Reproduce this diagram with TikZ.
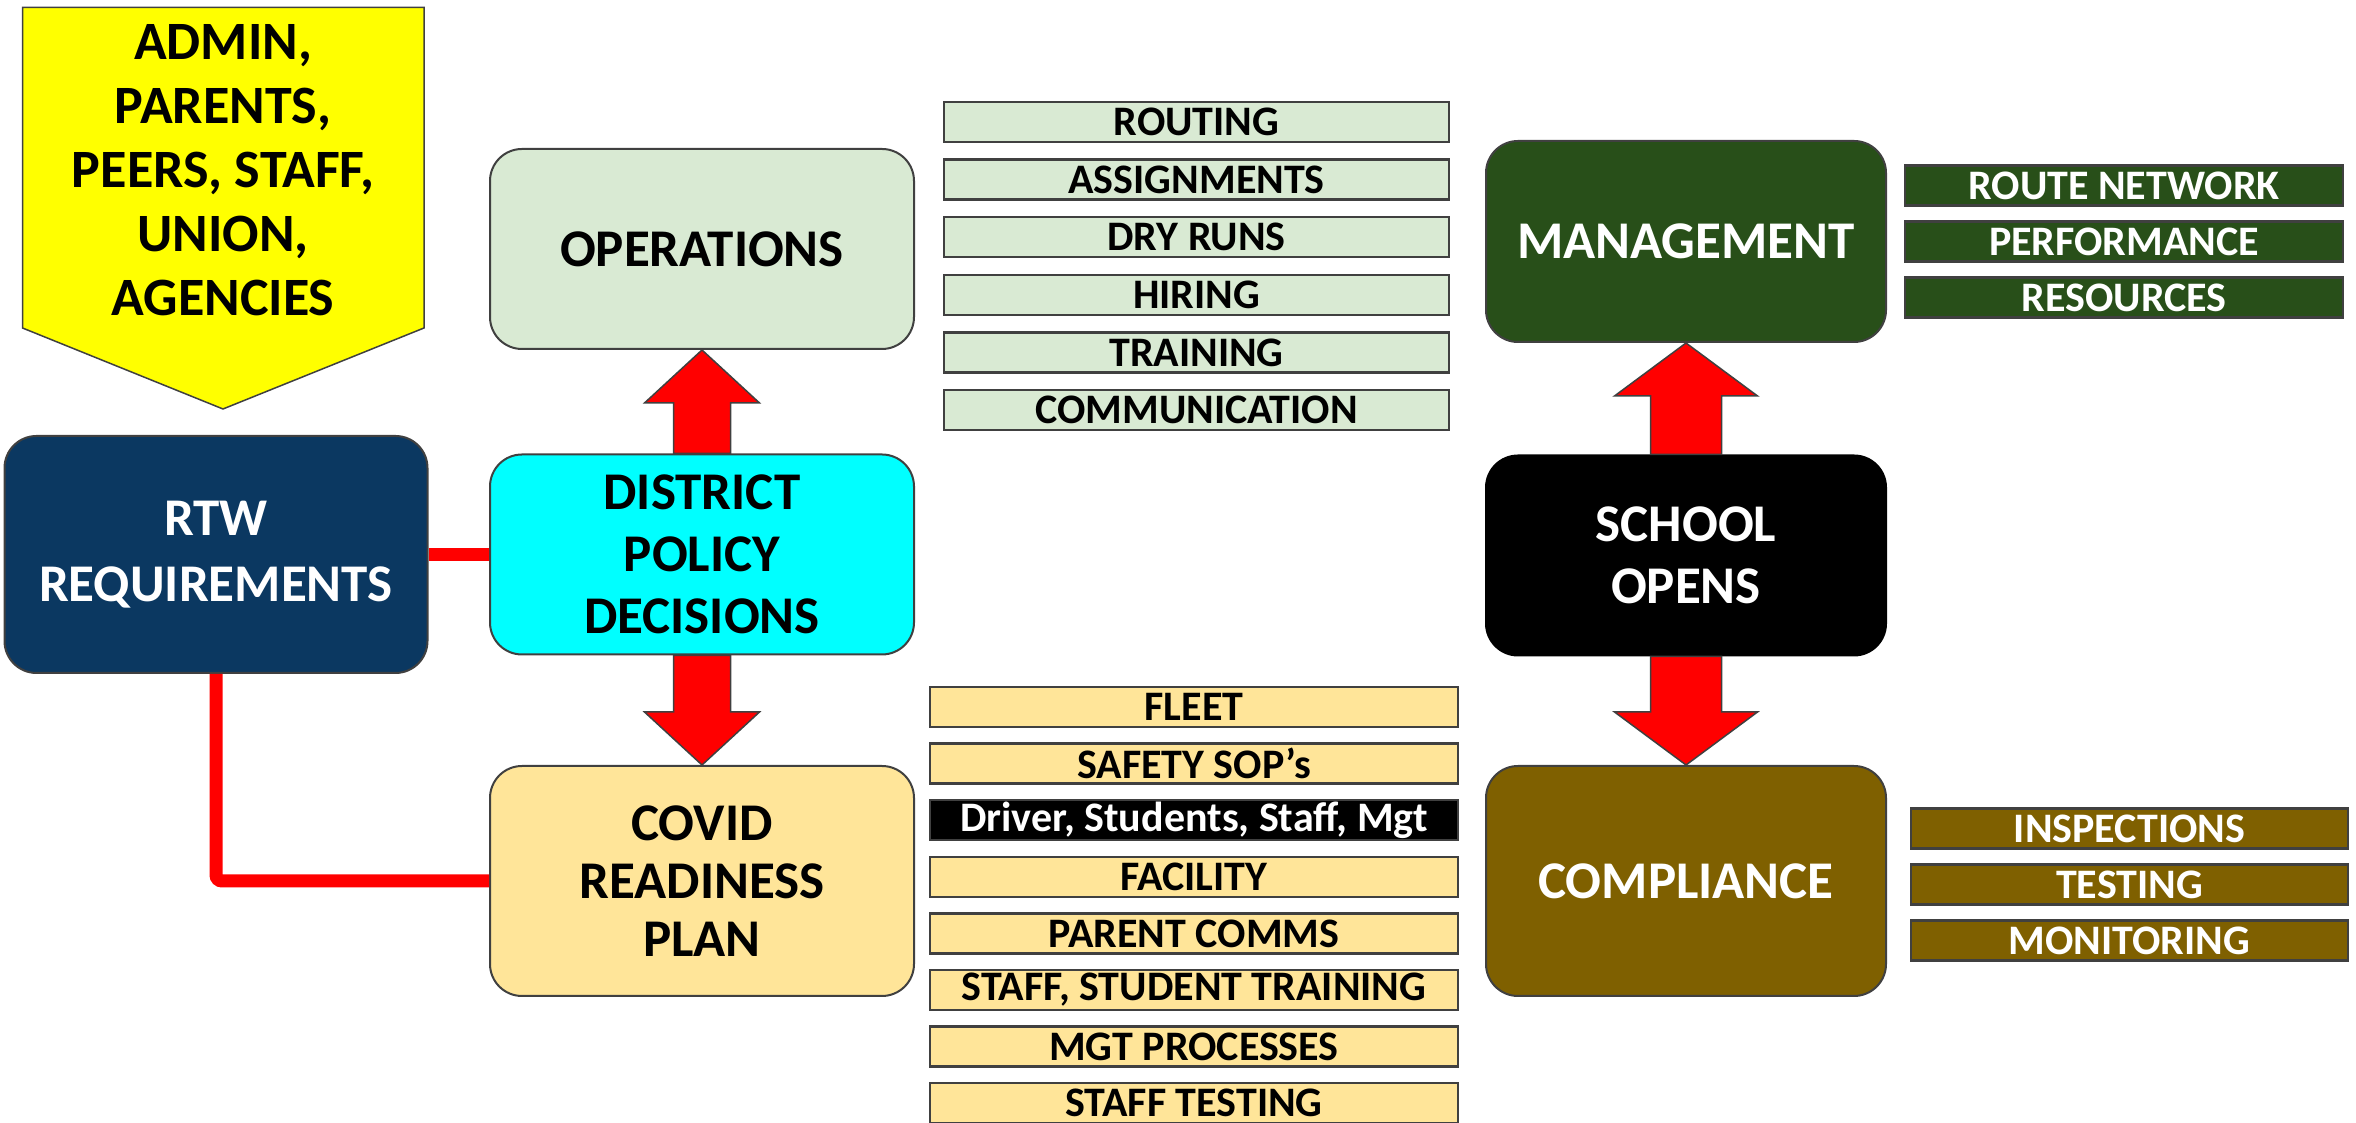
\documentclass[tikz,border=0pt]{standalone}
\usepackage{fontspec}
\setmainfont{Carlito}
\usetikzlibrary{calc}

\definecolor{whoyellow}{RGB}{255,255,0}
\definecolor{linkred}{RGB}{255,0,0}
\definecolor{policycyan}{RGB}{0,255,255}
\definecolor{rtwblue}{RGB}{11,56,97}
\definecolor{opsgreen}{RGB}{217,234,211}
\definecolor{plantan}{RGB}{255,229,153}
\definecolor{mgmtgreen}{RGB}{40,79,25}
\definecolor{compolive}{RGB}{127,96,0}
\definecolor{boxline}{RGB}{64,64,64}

\newcommand{\boxfont}{\fontsize{53}{62}\selectfont\bfseries}
\newcommand{\itemfont}{\fontsize{42}{48}\selectfont\bfseries}
\newcommand{\whofont}{\fontsize{54}{64}\selectfont\bfseries}

% red block arrow from one node border to another
\newcommand{\blockarrow}[4]{%
  \path (#2) coordinate (tip) ($(#2)!53pt!(#1)$) coordinate (hb);
  \draw[arrowfill] ([xshift=-#3]#1) -- ([xshift=-#3]hb) -- ([xshift=-#4]hb) -- (tip)
    -- ([xshift=#4]hb) -- ([xshift=#3]hb) -- ([xshift=#3]#1) -- cycle;}

\begin{document}
\begin{tikzpicture}[x=1pt,y=1pt,
    mainbox/.style={draw=boxline, line width=2pt, rounded corners=32, align=center,
      minimum width=424, minimum height=200, font=\boxfont},
    item/.style={draw=boxline, line width=2.5pt, minimum height=40, inner sep=0pt,
      font=\itemfont},
    link/.style={linkred, line width=13pt},
    arrowfill/.style={fill=linkred, draw=boxline, line width=1.5pt, line join=miter}]
    \useasboundingbox (0,0) rectangle (2356,1123);

    % who is asking
    \draw[draw=boxline, fill=whoyellow, line width=1.5pt] (22.5,1115.5) -- (424,1115.5)
      -- (424,795) -- (223,714) -- (22.5,795) -- cycle;
    \node[font=\whofont, align=center] (who) at (223,953)
      {ADMIN,\\PARENTS,\\PEERS, STAFF,\\UNION,\\AGENCIES};

    % main boxes
    \node[mainbox, fill=rtwblue, text=white, minimum width=423, minimum height=237,
      font=\fontsize{53}{66}\selectfont\bfseries] (rtw) at (216,568.5) {RTW\\REQUIREMENTS};
    \node[mainbox, fill=opsgreen] (ops) at (702,874) {OPERATIONS};
    \node[mainbox, fill=policycyan] (dpd) at (702,568.5) {DISTRICT\\POLICY\\DECISIONS};
    \node[mainbox, fill=plantan, minimum height=230,
      font=\fontsize{53}{58}\selectfont\bfseries] (crp) at (702,242) {COVID\\READINESS\\PLAN};
    \node[mainbox, fill=mgmtgreen, text=white, minimum width=400, minimum height=201] (mgmt) at (1686,881.5) {MANAGEMENT};
    \node[mainbox, fill=black, draw=black, text=white, minimum width=400] (opens) at (1686,567.5) {SCHOOL\\OPENS};
    \node[mainbox, fill=compolive, text=white, minimum width=400, minimum height=230] (comp) at (1686,242) {COMPLIANCE};

    % operations items
    \node[item, fill=opsgreen, minimum width=505] (routing) at (1196.5,1001) {ROUTING};
    \node[item, fill=opsgreen, minimum width=505] (assign) at (1196.5,943.4) {ASSIGNMENTS};
    \node[item, fill=opsgreen, minimum width=505] (dryrun) at (1196.5,885.8) {DRY RUNS};
    \node[item, fill=opsgreen, minimum width=505] (hiring) at (1196.5,828.2) {HIRING};
    \node[item, fill=opsgreen, minimum width=505] (train) at (1196.5,770.6) {TRAINING};
    \node[item, fill=opsgreen, minimum width=505] (comms) at (1196.5,713) {COMMUNICATION};

    % readiness plan items
    \node[item, fill=plantan, minimum width=528] (fleet) at (1194,416) {FLEET};
    \node[item, fill=plantan, minimum width=528] (sops) at (1194,359.4) {SAFETY SOP’s};
    \node[item, fill=black, text=white, minimum width=528] (who2) at (1194,302.8) {Driver, Students, Staff, Mgt};
    \node[item, fill=plantan, minimum width=528] (facil) at (1194,246.2) {FACILITY};
    \node[item, fill=plantan, minimum width=528] (pcomms) at (1194,189.6) {PARENT COMMS};
    \node[item, fill=plantan, minimum width=528] (sstrain) at (1194,133) {STAFF, STUDENT TRAINING};
    \node[item, fill=plantan, minimum width=528] (mgtproc) at (1194,76.4) {MGT PROCESSES};
    \node[item, fill=plantan, minimum width=528] (stest) at (1194,19.8) {STAFF TESTING};

    % management items
    \node[item, fill=mgmtgreen, text=white, minimum width=438] (rnet) at (2124,937.5) {ROUTE NETWORK};
    \node[item, fill=mgmtgreen, text=white, minimum width=438] (perf) at (2124,881.5) {PERFORMANCE};
    \node[item, fill=mgmtgreen, text=white, minimum width=438] (res) at (2124,825.5) {RESOURCES};

    % compliance items
    \node[item, fill=compolive, text=white, minimum width=437] (insp) at (2129.5,294.5) {INSPECTIONS};
    \node[item, fill=compolive, text=white, minimum width=437] (ctest) at (2129.5,238.5) {TESTING};
    \node[item, fill=compolive, text=white, minimum width=437] (monit) at (2129.5,182.5) {MONITORING};

    % connectors
    \draw[link] (rtw) -- (dpd);
    \draw[link, rounded corners=6] (rtw.south) |- (crp.west);
    \blockarrow{dpd.north}{ops.south}{28.5}{57.5}
    \blockarrow{dpd.south}{crp.north}{28.5}{57.5}
    \blockarrow{opens.north}{mgmt.south}{35.5}{71.5}
    \blockarrow{opens.south}{comp.north}{35.5}{71.5}
\end{tikzpicture}
\end{document}
